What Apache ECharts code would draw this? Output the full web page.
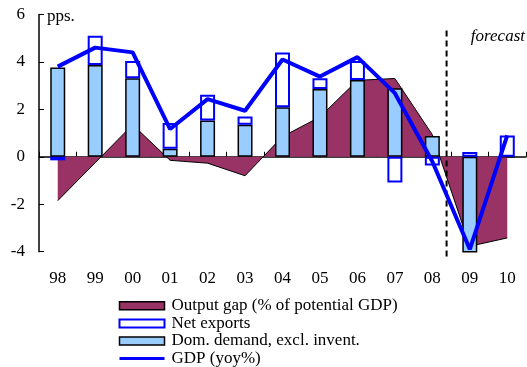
<!DOCTYPE html>
<html>
<head>
<meta charset="utf-8">
<script src="https://cdn.jsdelivr.net/npm/echarts@6/dist/echarts.min.js"></script>
<style>
html,body{margin:0;padding:0;background:#fff;}
#chart{width:527px;height:367px;}
</style>
</head>
<body>
<div id="chart"></div>
<script>
var categories = ['98','99','00','01','02','03','04','05','06','07','08','09','10'];
var outputGap = [-1.85, -0.25, 1.35, -0.15, -0.27, -0.8, 0.85, 1.68, 3.22, 3.3, 0.93, -3.77, -3.42];
var netExports = [-0.15, 1.23, 0.73, 1.08, 1.08, 0.35, 2.3, 0.45, 0.8, -1.08, -0.37, 0.2, 0.9];
var domDemand = [3.76, 3.87, 3.31, 0.34, 1.53, 1.35, 2.09, 2.86, 3.24, 2.89, 0.88, -4.06, 0];
var gdp = [3.8, 4.6, 4.4, 1.17, 2.43, 1.94, 4.1, 3.38, 4.2, 2.68, -0.2, -3.9, 0.9];
var yTicks = {min: -4, max: 6, interval: 2};
var forecastStart = 10.38;          // forecast divider, in category units
var forecastSpan = [-4.2, 5.45];    // vertical extent of the divider, in y units
var seriesNames = ['Output gap (% of potential GDP)', 'Net exports', 'Dom. demand, excl. invent.', 'GDP (yoy%)'];

var FONT = '"Liberation Serif", "Times New Roman", serif';
var chart = echarts.init(document.getElementById('chart'), null, {renderer: 'canvas'});
chart.setOption({
  animation: false,
  backgroundColor: '#fff',
  grid: {left: 39, right: 1, top: 14.4, bottom: 115.3, outerBoundsMode: 'none', containLabel: false},
  xAxis: [
    {type: 'category', data: categories, position: 'bottom',
     axisLine: {show: false, onZero: false}, axisTick: {show: false},
     axisLabel: {color: '#000', fontFamily: FONT, fontSize: 17, margin: 18},
     splitLine: {show: false}},
    {type: 'category', data: categories, position: 'top',
     axisLine: {show: true, onZero: true, lineStyle: {color: '#000', width: 1.5}},
     axisTick: {show: true, inside: false, length: 5, lineStyle: {color: '#000', width: 1}},
     axisLabel: {show: false}, splitLine: {show: false}},
    {type: 'value', min: -0.5, max: 12.5, show: false}
  ],
  yAxis: [{
    type: 'value', min: yTicks.min, max: yTicks.max, interval: yTicks.interval,
    name: 'pps.', nameLocation: 'end', nameGap: -2,
    nameTextStyle: {color: '#000', fontFamily: FONT, fontSize: 17, align: 'left', verticalAlign: 'middle', padding: [0, 0, 0, 8]},
    axisLine: {show: true, onZero: false, lineStyle: {color: '#000', width: 1.5}},
    axisTick: {show: true, inside: true, length: 5, lineStyle: {color: '#000', width: 1}},
    axisLabel: {color: '#000', fontFamily: FONT, fontSize: 17, margin: 14},
    splitLine: {show: false}
  }],
  legend: {
    orient: 'vertical', left: 118, top: 297, height: 72, padding: 0,
    itemWidth: 45, itemHeight: 8, itemGap: 0,
    textStyle: {color: '#000', fontFamily: FONT, fontSize: 17, lineHeight: 17.6, padding: [0, 0, 0, 2]},
    data: [
      {name: seriesNames[0], icon: 'rect', itemStyle: {color: '#993366', borderColor: '#000', borderWidth: 1.5}},
      {name: seriesNames[1], icon: 'rect', itemStyle: {color: '#fff', borderColor: '#0000FF', borderWidth: 2}},
      {name: seriesNames[2], icon: 'rect', itemStyle: {color: '#99CCFF', borderColor: '#000', borderWidth: 1.5}},
      {name: seriesNames[3], itemStyle: {color: 'rgba(0,0,0,0)', borderColor: 'rgba(0,0,0,0)', borderWidth: 0}, lineStyle: {color: '#0000FF', width: 3}}
    ]
  },
  graphic: [{
    type: 'text', right: 2, top: 28,
    style: {text: 'forecast', font: 'italic 17px ' + FONT, fill: '#000'}
  }],
  series: [
    {name: seriesNames[0], type: 'line', data: outputGap, xAxisIndex: 0, yAxisIndex: 0,
     symbol: 'none', z: 1,
     lineStyle: {color: '#000', width: 1},
     itemStyle: {color: '#993366'},
     areaStyle: {color: '#993366', opacity: 1}},
    {name: seriesNames[2], type: 'bar', stack: 'total', data: domDemand, xAxisIndex: 0, yAxisIndex: 0,
     barWidth: 15, z: 2,
     itemStyle: {color: '#99CCFF', borderColor: '#000', borderWidth: 1.5}},
    {name: seriesNames[1], type: 'bar', stack: 'total', data: netExports, xAxisIndex: 0, yAxisIndex: 0,
     barWidth: 15, z: 2,
     itemStyle: {color: '#fff', borderColor: '#0000FF', borderWidth: 2}},
    {name: 'forecastDivider', type: 'line', xAxisIndex: 2, yAxisIndex: 0, z: 3,
     data: [[forecastStart, forecastSpan[0]], [forecastStart, forecastSpan[1]]],
     symbol: 'none', clip: false, silent: true,
     lineStyle: {color: '#000', type: [6, 4], width: 2}},
    {name: seriesNames[3], type: 'line', data: gdp, xAxisIndex: 0, yAxisIndex: 0,
     symbol: 'none', z: 4,
     lineStyle: {color: '#0000FF', width: 4},
     itemStyle: {color: '#0000FF'}}
  ]
});
</script>
</body>
</html>
